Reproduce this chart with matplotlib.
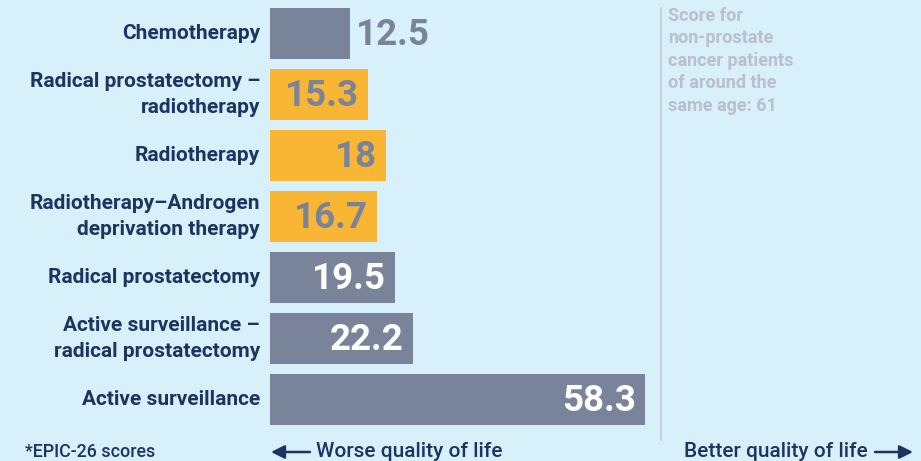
import matplotlib
matplotlib.use("Agg")
import matplotlib.pyplot as plt

# data
categories = [
    "Chemotherapy",
    "Radical prostatectomy –\nradiotherapy",
    "Radiotherapy",
    "Radiotherapy–Androgen\ndeprivation therapy",
    "Radical prostatectomy",
    "Active surveillance –\nradical prostatectomy",
    "Active surveillance",
]
scores = [12.5, 15.3, 18, 16.7, 19.5, 22.2, 58.3]
value_labels = ["12.5", "15.3", "18", "16.7", "19.5", "22.2", "58.3"]
highlight = [False, True, True, True, False, False, False]
reference_score = 61

BG = "#d8f0fa"
GRAY = "#798399"
ORANGE = "#f9b634"
NAVY = "#1d3461"
LIGHT = "#b9bfcf"

plt.rcParams["font.family"] = ["Roboto", "DejaVu Sans"]

fig = plt.figure(figsize=(9.21, 4.61), dpi=100, facecolor=BG)
ax = fig.add_axes([270 / 921, 0, 1 - 270 / 921, 1])
ax.set_facecolor(BG)

px = 6.43  # pixels per score unit
ax.set_xlim(0, 651 / px)
ax.set_ylim(7.0, -0.548)

ypos = list(range(len(categories)))
colors = [ORANGE if h else GRAY for h in highlight]
ax.barh(ypos, scores, height=0.835, color=colors, left=0)

for i, (cat, val, lab) in enumerate(zip(categories, scores, value_labels)):
    ax.text(-10 / px, i, cat, ha="right", va="center", fontsize=15,
            fontweight="bold", color=NAVY, linespacing=1.45, multialignment="right")
    if val < 14:
        ax.text(val + 6 / px, i + 0.02, lab, ha="left", va="center", fontsize=26.5,
                fontweight="bold", color=GRAY)
    else:
        tc = GRAY if highlight[i] else "white"
        ax.text(val - 9 / px, i + 0.02, lab, ha="right", va="center", fontsize=26.5,
                fontweight="bold", color=tc)

# reference line
ax.plot([reference_score - 0.15, reference_score - 0.15], [-0.41, 6.65], color="#c3c8d4", lw=1.2)
ax.text(reference_score + 6 / px, -0.44,
        "Score for\nnon-prostate\ncancer patients\nof around the\nsame age: 61",
        ha="left", va="top", fontsize=13, fontweight="bold", color=LIGHT, linespacing=1.32)

for s in ax.spines.values():
    s.set_visible(False)
ax.set_xticks([])
ax.set_yticks([])

# footer
fig.text(25 / 921, 1 - 452 / 461, "*EPIC-26 scores", ha="left", va="center",
         fontsize=12.9, color=NAVY, fontweight="medium")
fig.text(316 / 921, 1 - 451 / 461, "Worse quality of life", ha="left", va="center",
         fontsize=15, color=NAVY, fontweight="medium")
fig.text(868 / 921, 1 - 451 / 461, "Better quality of life", ha="right", va="center",
         fontsize=15, color=NAVY, fontweight="medium")
fig.add_artist(matplotlib.patches.FancyArrowPatch(
    (310 / 921, 1 - 452 / 461), (271 / 921, 1 - 452 / 461), transform=fig.transFigure,
    arrowstyle="-|>,head_length=8,head_width=4", color=NAVY, lw=1.8, mutation_scale=1,
    shrinkA=0, shrinkB=0))
fig.add_artist(matplotlib.patches.FancyArrowPatch(
    (875 / 921, 1 - 452 / 461), (913 / 921, 1 - 452 / 461), transform=fig.transFigure,
    arrowstyle="-|>,head_length=8,head_width=4", color=NAVY, lw=1.8, mutation_scale=1,
    shrinkA=0, shrinkB=0))

fig.savefig("out.png", dpi=100, facecolor=BG)
